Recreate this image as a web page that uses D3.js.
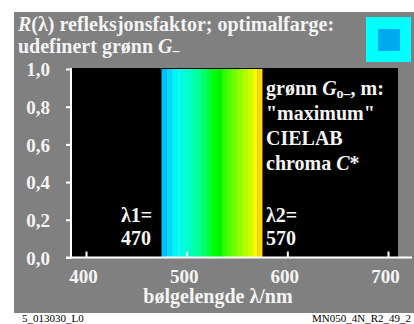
<!DOCTYPE html>
<html><head><meta charset="utf-8">
<script src="https://cdn.jsdelivr.net/npm/d3@7"></script>
<style>body{margin:0;background:#fff}svg{display:block}text{font-family:"Liberation Serif","Times New Roman",serif}</style>
</head><body><svg id="c" width="414" height="324"></svg>
<script>
// stripe start wavelengths (nm), each 5 nm wide
const wavelengths = [475,480,485,490,495,500,505,510,515,520,525,530,535,540,545,550,555,560,565,570];
const reflectance = [1,1,1,1,1,1,1,1,1,1,1,1,1,1,1,1,1,1,1,1];
const stripeColors = ["#00bfff","#00d8ff","#00f2ff","#00fff4","#00ffdc","#00ffc4","#00ffac","#00ff90","#00ff68","#00ff38","#00ff00","#00f400","#30ff00","#50ff00","#70ff00","#90ff00","#b0ff00","#d0ff00","#f0ff00","#ffd700"];
const xTicks = [400,500,600,700];
const yTicks = [0,0.2,0.4,0.6,0.8,1.0];
const titleLines = ["refleksjonsfaktor; optimalfarge:", "udefinert grønn "];
const infoLines = ["\"maximum\"", "CIELAB"];

const svg = d3.select("#c");
const x = d3.scaleLinear().domain([400,700]).range([86,388]);
const y = d3.scaleLinear().domain([0,1]).range([257.5,69]);
const fg = "#f4f4f4";
const B = sel => sel.style("font-weight","bold");

svg.append("rect").attr("x",14).attr("y",12).attr("width",400).attr("height",301).attr("fill","#808080");
svg.append("rect").attr("x",x(385)).attr("y",68).attr("width",398-x(385)).attr("height",y(0)-68).attr("fill","#000");

// title
const t1 = svg.append("text").attr("x",18).attr("y",31).attr("font-size",20).attr("fill",fg).call(B);
t1.append("tspan").attr("font-style","italic").text("R");
t1.append("tspan").text("(λ) " + titleLines[0]);
const t2 = svg.append("text").attr("x",18).attr("y",53).attr("font-size",20).attr("fill",fg).call(B);
t2.append("tspan").text(titleLines[1]);
t2.append("tspan").attr("font-style","italic").text("G");
t2.append("tspan").attr("font-size",14).attr("dy",2).text("–");

// colour patch
svg.append("rect").attr("x",366).attr("y",17).attr("width",45).attr("height",45).attr("fill","#00ffff");
svg.append("rect").attr("x",378).attr("y",29).attr("width",22).attr("height",22).attr("fill","#00aaee");

// spectrum stripes
svg.append("g").selectAll("rect").data(wavelengths).join("rect")
  .attr("x",d=>x(d)).attr("width",d=>x(d+5)-x(d)+0.3)
  .attr("y",(d,i)=>y(reflectance[i])).attr("height",(d,i)=>y(0)-y(reflectance[i]))
  .attr("fill",(d,i)=>stripeColors[i]);

// axes
const fmt = d => d3.format(".1f")(d).replace(".",",");
const gy = svg.append("g").attr("transform","translate(71,0)")
  .call(d3.axisLeft(y).tickValues(yTicks).tickSize(5).tickPadding(16).tickFormat(fmt));
const gx = svg.append("g").attr("transform","translate(0,257.5)")
  .call(d3.axisBottom(x).tickValues(xTicks).tickSize(-6).tickPadding(12).tickFormat(d3.format("d")));
[gy,gx].forEach(g=>{
  g.select(".domain").remove();
  g.selectAll("line").attr("stroke","#fff").attr("stroke-width",2);
  g.selectAll("text").attr("fill",fg).attr("font-size",19)
   .attr("font-family","'Liberation Serif',serif").call(B);
});
gx.selectAll("text").attr("dx",-3);
gy.selectAll("text").attr("dy","0.36em");
svg.append("line").attr("x1",71).attr("x2",71).attr("y1",68).attr("y2",258.5).attr("stroke","#fff").attr("stroke-width",2);
svg.append("line").attr("x1",66).attr("x2",412).attr("y1",257.5).attr("y2",257.5).attr("stroke","#fff").attr("stroke-width",2);

svg.append("text").attr("x",218).attr("y",303).attr("text-anchor","middle").attr("font-size",20).attr("fill",fg).call(B).text("bølgelengde λ/nm");

// plot annotations
const a1 = svg.append("text").attr("x",266).attr("y",95).attr("font-size",20).attr("fill",fg).call(B);
a1.append("tspan").text("grønn ");
a1.append("tspan").attr("font-style","italic").text("G");
a1.append("tspan").attr("font-size",14).attr("dy",3).text("o–");
a1.append("tspan").attr("dy",-3).text(", m:");
infoLines.forEach((s,i)=>svg.append("text").attr("x",266).attr("y",120+i*25).attr("font-size",20).attr("fill",fg).call(B).text(s));
const a4 = svg.append("text").attr("x",266).attr("y",170).attr("font-size",20).attr("fill",fg).call(B);
a4.append("tspan").text("chroma ");
a4.append("tspan").attr("font-style","italic").text("C");
a4.append("tspan").text("*");

svg.append("text").attr("x",121).attr("y",222).attr("font-size",20).attr("fill",fg).call(B).text("λ1=");
svg.append("text").attr("x",121).attr("y",245).attr("font-size",20).attr("fill",fg).call(B).text("470");
svg.append("text").attr("x",266).attr("y",222).attr("font-size",20).attr("fill",fg).call(B).text("λ2=");
svg.append("text").attr("x",266).attr("y",245).attr("font-size",20).attr("fill",fg).call(B).text("570");

svg.append("text").attr("x",22).attr("y",322).attr("font-size",11).attr("fill","#000").text("5_013030_L0");
svg.append("text").attr("x",411).attr("y",322).attr("text-anchor","end").attr("font-size",11).attr("fill","#000").text("MN050_4N_R2_49_2");
</script></body></html>
